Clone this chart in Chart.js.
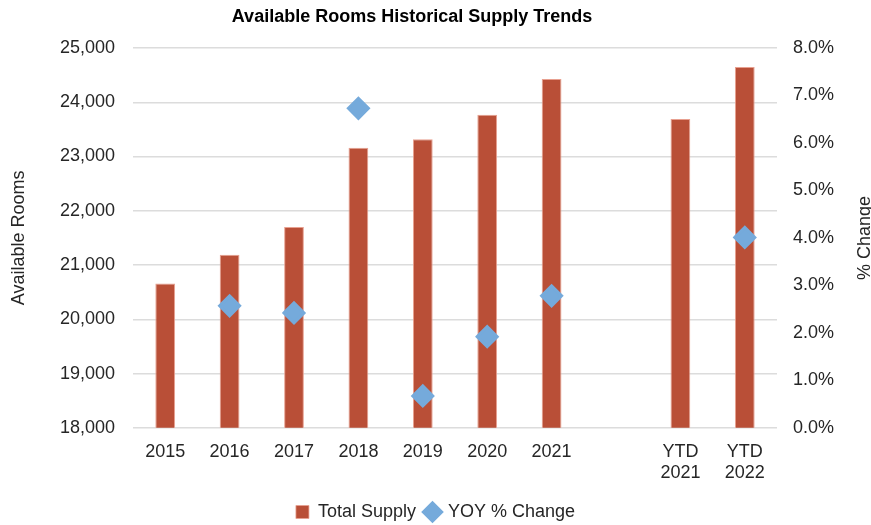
<!DOCTYPE html>
<html>
<head>
<meta charset="utf-8">
<script src="https://cdn.jsdelivr.net/npm/chart.js@4"></script>
<style>
  html, body { margin: 0; padding: 0; background: #fff; }
  #wrap { width: 871px; height: 525px; }
</style>
</head>
<body>
<div id="wrap"><canvas id="supplyChart"></canvas></div>
<script>
var categories = ["2015", "2016", "2017", "2018", "2019", "2020", "2021", "", ["YTD", "2021"], ["YTD", "2022"]];
var totalSupply = [20660, 21190, 21700, 23160, 23320, 23770, 24430, null, 23690, 24650];
var yoyChange = [null, 2.57, 2.42, 6.73, 0.67, 1.92, 2.78, null, null, 4.01];
var leftTicks = [18000, 25000, 1000];
var rightTicks = [0, 8, 1];

Chart.defaults.font.family = "'Liberation Sans', sans-serif";
Chart.defaults.font.size = 18;
Chart.defaults.color = "#262626";

var supplyCanvas = document.getElementById("supplyChart");

// title sits a bit left of centre, and the right axis title reads bottom-to-top
var extraText = {
  id: "extraText",
  afterDraw: function (chart) {
    var s = chart.scales.y2;
    var ctx = chart.ctx;
    ctx.save();
    ctx.fillStyle = "#000";
    ctx.textAlign = "center";
    ctx.textBaseline = "middle";
    ctx.font = "bold 18px 'Liberation Sans', sans-serif";
    ctx.fillText("Available Rooms Historical Supply Trends", 412, 17);
    ctx.translate(865, (s.top + s.bottom) / 2);
    ctx.rotate(-Math.PI / 2);
    ctx.font = "18px 'Liberation Sans', sans-serif";
    ctx.fillStyle = "#262626";
    ctx.fillText("% Change", 0, 0);
    ctx.restore();
  }
};

var chartOptions = {
  responsive: true,
  maintainAspectRatio: false,
  animation: false,
  layout: { padding: { top: 48, bottom: -6, left: 0, right: 0 } },
  plugins: {
    title: { display: false },
    legend: {
      position: "bottom",
      labels: {
        usePointStyle: true,
        boxWidth: 13,
        boxHeight: 13,
        padding: 10,
        font: { size: 18 },
        color: "#262626",
        sort: function (a, b) { return a.datasetIndex - b.datasetIndex; }
      }
    },
    tooltip: { enabled: false }
  },
  scales: {
    x: {
      grid: { display: false },
      border: { display: false },
      ticks: { color: "#262626", maxRotation: 0, autoSkip: false, padding: 5 },
      afterFit: function (scale) { scale.height += 4; }
    },
    y: {
      position: "left",
      min: leftTicks[0],
      max: leftTicks[1],
      ticks: {
        stepSize: leftTicks[2],
        padding: 18,
        callback: function (v) { return v.toLocaleString("en-US"); }
      },
      grid: { color: "#dcdcdc", lineWidth: 1.5, drawTicks: false },
      border: { display: false },
      title: { display: true, text: "Available Rooms", padding: { top: 8, bottom: 10 } },
      afterFit: function (scale) { scale.width = 133; }
    },
    y2: {
      position: "right",
      min: rightTicks[0],
      max: rightTicks[1],
      ticks: {
        stepSize: rightTicks[2],
        padding: 8,
        callback: function (v) { return v.toFixed(1) + "%"; }
      },
      grid: { display: false },
      border: { display: false },
      afterFit: function (scale) { scale.width = 94; }
    }
  }
};

new Chart(supplyCanvas, {
  data: {
    labels: categories,
    datasets: [
      {
        type: "bar",
        label: "Total Supply",
        data: totalSupply,
        yAxisID: "y",
        backgroundColor: "#b94f37",
        borderColor: "#e8a090",
        borderWidth: { top: 1, left: 1, right: 1, bottom: 0 },
        barPercentage: 0.93,
        categoryPercentage: 0.33,
        pointStyle: "rect",
        order: 2
      },
      {
        type: "line",
        label: "YOY % Change",
        data: yoyChange,
        yAxisID: "y2",
        showLine: false,
        pointStyle: "rectRot",
        pointRadius: 10,
        pointBorderWidth: 3,
        backgroundColor: "#75aadb",
        borderColor: "#75aadb",
        order: 1
      }
    ]
  },
  options: chartOptions,
  plugins: [extraText]
});
</script>
</body>
</html>
